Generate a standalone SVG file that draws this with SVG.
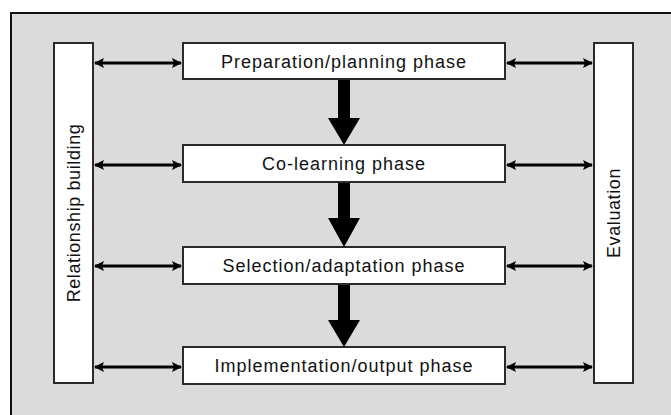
<svg xmlns="http://www.w3.org/2000/svg" width="671" height="415" viewBox="0 0 671 415">
<defs>
<style>
.frame{fill:#dbdbdb;stroke:#111;stroke-width:2}
.box{fill:#fff;stroke:#2a2a2a;stroke-width:2}
.lbl{font-family:"Liberation Sans",Arial,sans-serif;font-size:18px;fill:#111;text-anchor:middle;dominant-baseline:central;letter-spacing:1px}
.vl{letter-spacing:0.6px}
.h{stroke:#000;stroke-width:3.2;fill:none;marker-start:url(#ah);marker-end:url(#ah)}
.down{fill:#000}
</style>
<marker id="ah" viewBox="0 0 10 10" refX="9" refY="5" markerWidth="10" markerHeight="10" markerUnits="userSpaceOnUse" orient="auto-start-reverse">
<path d="M0,0 L10,5 L0,10 L2,5 Z" fill="#000"/>
</marker>
</defs>
<rect width="671" height="415" fill="#fff"/>
<rect class="frame" x="11" y="13" width="680" height="420"/>
<g id="relationship">
<rect class="box" x="54" y="43" width="39" height="340"/>
<text class="lbl vl" transform="translate(74,213) rotate(-90)">Relationship building</text>
</g>
<g id="evaluation">
<rect class="box" x="594" y="43" width="39" height="340"/>
<text class="lbl vl" transform="translate(614,213) rotate(-90)">Evaluation</text>
</g>
<g id="preparation">
<rect class="box" x="183" y="43" width="322" height="36"/>
<text class="lbl" x="344" y="62">Preparation/planning phase</text>
</g>
<g id="colearning">
<rect class="box" x="183" y="145" width="322" height="37"/>
<text class="lbl" x="344" y="164">Co-learning phase</text>
</g>
<g id="selection">
<rect class="box" x="183" y="247" width="322" height="37"/>
<text class="lbl" x="344" y="266">Selection/adaptation phase</text>
</g>
<g id="implementation">
<rect class="box" x="183" y="347" width="322" height="37"/>
<text class="lbl" x="344" y="366">Implementation/output phase</text>
</g>
<g id="connectors">
<line class="h" x1="95" y1="63" x2="181" y2="63"/>
<line class="h" x1="507" y1="63" x2="592" y2="63"/>
<line class="h" x1="95" y1="165" x2="181" y2="165"/>
<line class="h" x1="507" y1="165" x2="592" y2="165"/>
<line class="h" x1="95" y1="266" x2="181" y2="266"/>
<line class="h" x1="507" y1="266" x2="592" y2="266"/>
<line class="h" x1="95" y1="367" x2="181" y2="367"/>
<line class="h" x1="507" y1="367" x2="592" y2="367"/>
<path class="down" d="M338,80 H350 V118 H360 L344,145 L328,118 H338 Z"/>
<path class="down" d="M338,183 H350 V218 H360 L344,247 L328,218 H338 Z"/>
<path class="down" d="M338,285 H350 V320 H360 L344,347 L328,320 H338 Z"/>
</g>
</svg>
